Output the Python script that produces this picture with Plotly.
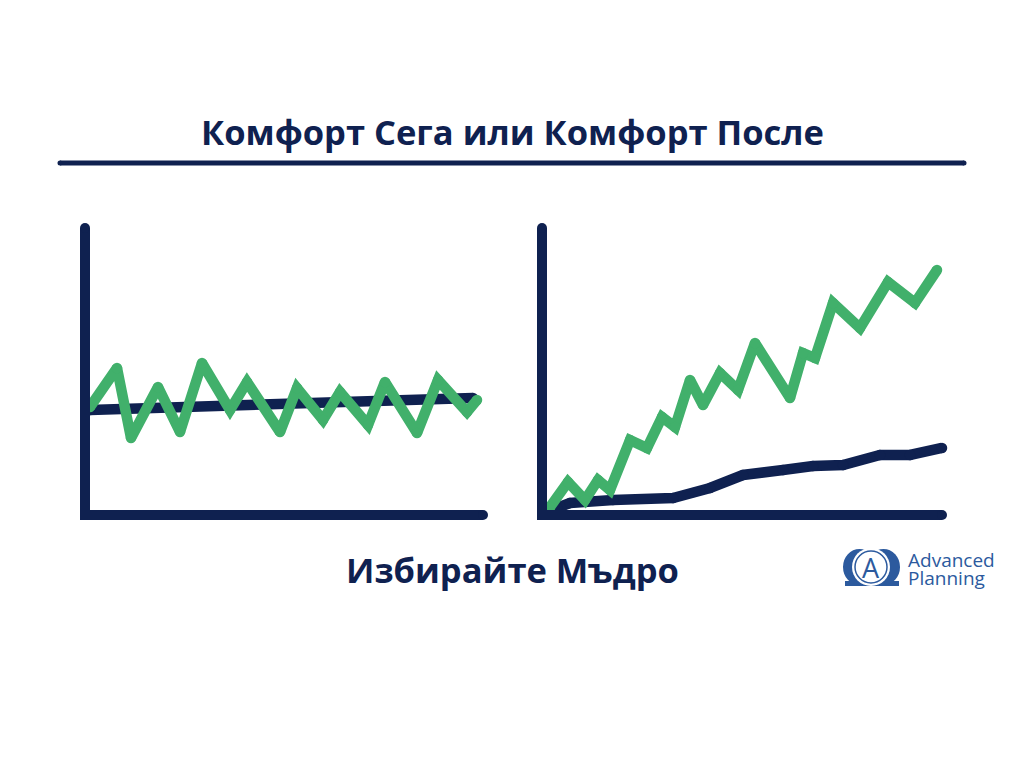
import plotly.graph_objects as go

# left panel: "comfort now" - flat line and a noisy line around it
now_green_x = [5, 32, 46, 73, 95, 117, 145, 162, 195, 212, 238, 255, 283, 300, 332, 353, 382, 392]
now_green_y = [108, 147, 77, 128, 83, 152, 105, 133, 83, 127, 95, 123, 90, 133, 82, 135, 103, 115]
now_navy_x = [5, 388]
now_navy_y = [105, 117]

# right panel: "comfort later" - slow steady line and a rising noisy line
later_green_x = [8, 26, 43, 56, 68, 88, 105, 120, 133, 148, 161, 178, 196, 213, 248, 261, 273, 291, 318, 346, 373, 395]
later_green_y = [8, 33, 15, 35, 25, 75, 67, 98, 88, 135, 110, 142, 125, 172, 117, 162, 157, 212, 187, 233, 212, 245]
later_navy_x = [15, 28, 71, 131, 168, 201, 241, 271, 301, 338, 368, 400]
later_navy_y = [7, 12, 15, 17, 27, 40, 45, 49, 50, 60, 60, 67]

title = 'Комфорт Сега или Комфорт После'
subtitle = 'Избирайте Мъдро'

NAVY = '#0f2150'
GREEN = '#41b06b'
LOGO = '#2c5a9e'
# page body keeps its 8px default margin, so the figure is drawn inside it
M = 8
W, H = 1024 - 2 * M, 768 - 2 * M


def px(x):
    return (x - M) / W


def py(y):
    return 1 - (y - M) / H


def dot(cx, cy, r, color):
    # little disc, used as a round cap on the thick rules
    fig.add_shape(type='circle', xref='paper', yref='paper',
                  x0=px(cx - r), x1=px(cx + r), y0=py(cy + r), y1=py(cy - r),
                  fillcolor=color, line=dict(width=0))


fig = go.Figure()

# navy first so green sits on top
for x, y, c, ax in [(now_navy_x, now_navy_y, NAVY, 'x'), (now_green_x, now_green_y, GREEN, 'x'),
                    (later_navy_x, later_navy_y, NAVY, 'x2'), (later_green_x, later_green_y, GREEN, 'x2')]:
    fig.add_trace(go.Scatter(
        x=x, y=y, mode='lines+markers',
        line=dict(color=c, width=10.5),
        marker=dict(color=c, size=10.5, line=dict(width=0)),
        cliponaxis=False,
        xaxis=ax, yaxis='y' if ax == 'x' else 'y2',
        hoverinfo='skip', showlegend=False,
    ))

axis_style = dict(showgrid=False, zeroline=False, showticklabels=False, ticks='',
                  showline=True, linewidth=10, linecolor=NAVY, fixedrange=True)

fig.update_layout(
    width=W, height=H,
    margin=dict(l=0, r=0, t=0, b=0),
    paper_bgcolor='white', plot_bgcolor='white',
    xaxis=dict(domain=[px(90), px(483)], range=[5, 398], anchor='y', **axis_style),
    yaxis=dict(domain=[py(510), py(228)], range=[5, 287], anchor='x', **axis_style),
    xaxis2=dict(domain=[px(547), px(942)], range=[5, 400], anchor='y2', **axis_style),
    yaxis2=dict(domain=[py(510), py(228)], range=[5, 287], anchor='x2', **axis_style),
    font=dict(family='Open Sans'),
)

# round ends of the axis lines
dot(85, 228, 5, NAVY)
dot(483, 515, 5, NAVY)
dot(542, 228, 5, NAVY)
dot(942, 515, 5, NAVY)

# title + rule under it
fig.add_annotation(x=px(512), y=py(132), xref='paper', yref='paper', text='<b>' + title + '</b>',
                   showarrow=False, xanchor='center', yanchor='middle',
                   font=dict(size=34.5, color=NAVY, family='Open Sans'))
fig.add_shape(type='line', xref='paper', yref='paper', x0=px(60), x1=px(964), y0=py(163), y1=py(163),
              line=dict(color=NAVY, width=5))
dot(60, 163, 2.5, NAVY)
dot(964, 163, 2.5, NAVY)

fig.add_annotation(x=px(512), y=py(569), xref='paper', yref='paper', text='<b>' + subtitle + '</b>',
                   showarrow=False, xanchor='center', yanchor='middle',
                   font=dict(size=34.5, color=NAVY, family='Open Sans'))

# logo: blue bubble, white disc with an "A", wordmark
fig.add_shape(type='rect', xref='paper', yref='paper', x0=px(845), x1=px(899), y0=py(586), y1=py(581),
              fillcolor=LOGO, line=dict(width=0))
fig.add_shape(type='circle', xref='paper', yref='paper', x0=px(843), x1=px(876), y0=py(585), y1=py(549),
              fillcolor=LOGO, line=dict(width=0))
fig.add_shape(type='circle', xref='paper', yref='paper', x0=px(867), x1=px(900), y0=py(585), y1=py(549),
              fillcolor=LOGO, line=dict(width=0))
fig.add_shape(type='circle', xref='paper', yref='paper', x0=px(852), x1=px(890), y0=py(586), y1=py(548),
              fillcolor='white', line=dict(width=0))
fig.add_shape(type='circle', xref='paper', yref='paper', x0=px(855), x1=px(887), y0=py(583), y1=py(551),
              fillcolor='white', line=dict(color=LOGO, width=1.5))
fig.add_annotation(x=px(871), y=py(567), xref='paper', yref='paper', text='A', showarrow=False,
                   xanchor='center', yanchor='middle',
                   font=dict(size=27, color=LOGO, family='Open Sans'))
fig.add_annotation(x=px(906), y=py(560), xref='paper', yref='paper', text='Advanced', showarrow=False,
                   xanchor='left', yanchor='middle', font=dict(size=19, color=LOGO, family='Open Sans'))
fig.add_annotation(x=px(906), y=py(578), xref='paper', yref='paper', text='Planning', showarrow=False,
                   xanchor='left', yanchor='middle', font=dict(size=19, color=LOGO, family='Open Sans'))

fig.write_html("out.html")
